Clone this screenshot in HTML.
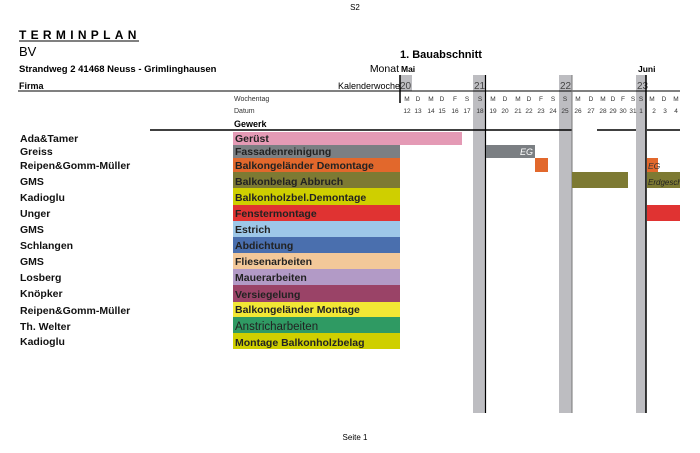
<!DOCTYPE html>
<html><head><meta charset="utf-8"><style>
html,body{margin:0;padding:0;background:#fff;width:700px;height:453px;overflow:hidden}
svg text{font-family:"Liberation Sans",Arial,sans-serif}
</style></head><body>
<svg width="700" height="453" viewBox="0 0 700 453" xmlns="http://www.w3.org/2000/svg">
<defs><clipPath id="c"><rect x="0" y="0" width="680" height="453"/></clipPath></defs>
<text x="355" y="10" font-size="8" text-anchor="middle">S2</text>
<text x="19" y="39" font-size="12" font-weight="bold" letter-spacing="4.3">TERMINPLAN</text>
<line x1="19" y1="41" x2="139" y2="41" stroke="#000" stroke-width="1"/>
<text x="19" y="56" font-size="13">BV</text>
<text x="19" y="72" font-size="9.5" font-weight="bold">Strandweg 2  41468 Neuss - Grimlinghausen</text>
<text x="19" y="89" font-size="9" font-weight="bold">Firma</text>
<text x="400" y="58" font-size="11" font-weight="bold">1. Bauabschnitt</text>
<text x="399" y="72" font-size="10.5" text-anchor="end">Monat</text>
<text x="401" y="72" font-size="8.5" font-weight="bold">Mai</text>
<text x="638" y="72" font-size="8.5" font-weight="bold">Juni</text>
<text x="400" y="89" font-size="9" text-anchor="end">Kalenderwoche</text>
<rect x="400" y="75" width="12" height="16" fill="#bdbdc1"/>
<rect x="473" y="75" width="12" height="338" fill="#bdbdc1"/>
<rect x="559" y="75" width="13" height="338" fill="#bdbdc1"/>
<rect x="636" y="75" width="10" height="338" fill="#bdbdc1"/>
<g font-size="10" fill="#444"><text x="400" y="89">20</text><text x="474" y="89">21</text><text x="560" y="89">22</text><text x="637" y="89">23</text></g>
<line x1="18" y1="91" x2="680" y2="91" stroke="#000" stroke-width="1"/>
<line x1="150" y1="130" x2="572" y2="130" stroke="#000" stroke-width="1.5"/>
<line x1="597" y1="130" x2="636" y2="130" stroke="#000" stroke-width="1.5"/>
<line x1="647" y1="130" x2="680" y2="130" stroke="#000" stroke-width="1.5"/>
<text x="234" y="101" font-size="7" fill="#333">Wochentag</text>
<text x="234" y="113" font-size="7" fill="#333">Datum</text>
<text x="234" y="127" font-size="9" font-weight="bold">Gewerk</text>
<g font-size="6.5" fill="#333" text-anchor="middle">
<text x="407" y="101">M</text><text x="418" y="101">D</text><text x="431" y="101">M</text><text x="442" y="101">D</text><text x="455" y="101">F</text><text x="467" y="101">S</text><text x="480" y="101">S</text>
<text x="493" y="101">M</text><text x="505" y="101">D</text><text x="518" y="101">M</text><text x="529" y="101">D</text><text x="541" y="101">F</text><text x="553" y="101">S</text><text x="565" y="101">S</text>
<text x="578" y="101">M</text><text x="591" y="101">D</text><text x="603" y="101">M</text><text x="613" y="101">D</text><text x="623" y="101">F</text><text x="633" y="101">S</text><text x="641" y="101">S</text>
<text x="652" y="101">M</text><text x="664" y="101">D</text><text x="676" y="101">M</text>
<text x="407" y="113">12</text><text x="418" y="113">13</text><text x="431" y="113">14</text><text x="442" y="113">15</text><text x="455" y="113">16</text><text x="467" y="113">17</text><text x="480" y="113">18</text>
<text x="493" y="113">19</text><text x="505" y="113">20</text><text x="518" y="113">21</text><text x="529" y="113">22</text><text x="541" y="113">23</text><text x="553" y="113">24</text><text x="565" y="113">25</text>
<text x="578" y="113">26</text><text x="591" y="113">27</text><text x="603" y="113">28</text><text x="613" y="113">29</text><text x="623" y="113">30</text><text x="633" y="113">31</text><text x="641" y="113">1</text>
<text x="654" y="113">2</text><text x="665" y="113">3</text><text x="676" y="113">4</text>
</g>
<line x1="400" y1="75" x2="400" y2="103" stroke="#000" stroke-width="1.5"/>
<line x1="485.5" y1="75" x2="485.5" y2="413" stroke="#000" stroke-width="1.2"/>
<line x1="572" y1="75" x2="572" y2="413" stroke="#777" stroke-width="1"/>
<line x1="646" y1="75" x2="646" y2="413" stroke="#000" stroke-width="1.5"/>
<rect x="233" y="132" width="229" height="13" fill="#e49ab5"/>
<rect x="233" y="145" width="167" height="13" fill="#7b7f83"/>
<rect x="233" y="158" width="167" height="14" fill="#e2682c"/>
<rect x="233" y="172" width="167" height="16" fill="#7d7a33"/>
<rect x="233" y="188" width="167" height="17" fill="#cfcf00"/>
<rect x="233" y="205" width="167" height="16" fill="#e03332"/>
<rect x="233" y="221" width="167" height="16" fill="#9dc7e8"/>
<rect x="233" y="237" width="167" height="16" fill="#4a6fae"/>
<rect x="233" y="253" width="167" height="16" fill="#f3c899"/>
<rect x="233" y="269" width="167" height="16" fill="#b29ac6"/>
<rect x="233" y="285" width="167" height="17" fill="#9a4367"/>
<rect x="233" y="302" width="167" height="15" fill="#f2e735"/>
<rect x="233" y="317" width="167" height="16" fill="#2f9a63"/>
<rect x="233" y="333" width="167" height="16" fill="#cfcf00"/>
<rect x="486" y="145" width="49" height="13" fill="#7b7f83"/>
<text x="533" y="155" font-size="9" font-style="italic" fill="#fff" text-anchor="end">EG</text>
<rect x="535" y="158" width="13" height="14" fill="#e2682c"/>
<rect x="647" y="158" width="11" height="14" fill="#e2682c"/>
<text x="648" y="169" font-size="8.5" font-style="italic" fill="#333">EG</text>
<rect x="572" y="172" width="56" height="16" fill="#7d7a33"/>
<rect x="647" y="172" width="33" height="16" fill="#7d7a33"/>
<text x="648" y="185" font-size="8" font-style="italic" fill="#222" clip-path="url(#c)">Erdgeschoss</text>
<rect x="647" y="205" width="33" height="16" fill="#e03332"/>
<g font-size="10.5" font-weight="bold" fill="#222">
<text x="235" y="142">Gerüst</text>
<text x="235" y="155">Fassadenreinigung</text>
<text x="235" y="169">Balkongeländer Demontage</text>
<text x="235" y="185">Balkonbelag Abbruch</text>
<text x="235" y="201">Balkonholzbel.Demontage</text>
<text x="235" y="217">Fenstermontage</text>
<text x="235" y="233">Estrich</text>
<text x="235" y="249">Abdichtung</text>
<text x="235" y="265">Fliesenarbeiten</text>
<text x="235" y="281">Mauerarbeiten</text>
<text x="235" y="298">Versiegelung</text>
<text x="235" y="313">Balkongeländer Montage</text>
<text x="235" y="330" font-weight="normal" font-size="11.5">Anstricharbeiten</text>
<text x="235" y="346">Montage Balkonholzbelag</text>
</g>
<g font-size="10.5" font-weight="bold" fill="#111">
<text x="20" y="142">Ada&amp;Tamer</text>
<text x="20" y="155">Greiss</text>
<text x="20" y="169">Reipen&amp;Gomm-Müller</text>
<text x="20" y="185">GMS</text>
<text x="20" y="201">Kadioglu</text>
<text x="20" y="217">Unger</text>
<text x="20" y="233">GMS</text>
<text x="20" y="249">Schlangen</text>
<text x="20" y="265">GMS</text>
<text x="20" y="281">Losberg</text>
<text x="20" y="297">Knöpker</text>
<text x="20" y="314">Reipen&amp;Gomm-Müller</text>
<text x="20" y="330">Th. Welter</text>
<text x="20" y="345">Kadioglu</text>
</g>
<text x="355" y="440" font-size="8" text-anchor="middle">Seite 1</text>
</svg>
</body></html>
